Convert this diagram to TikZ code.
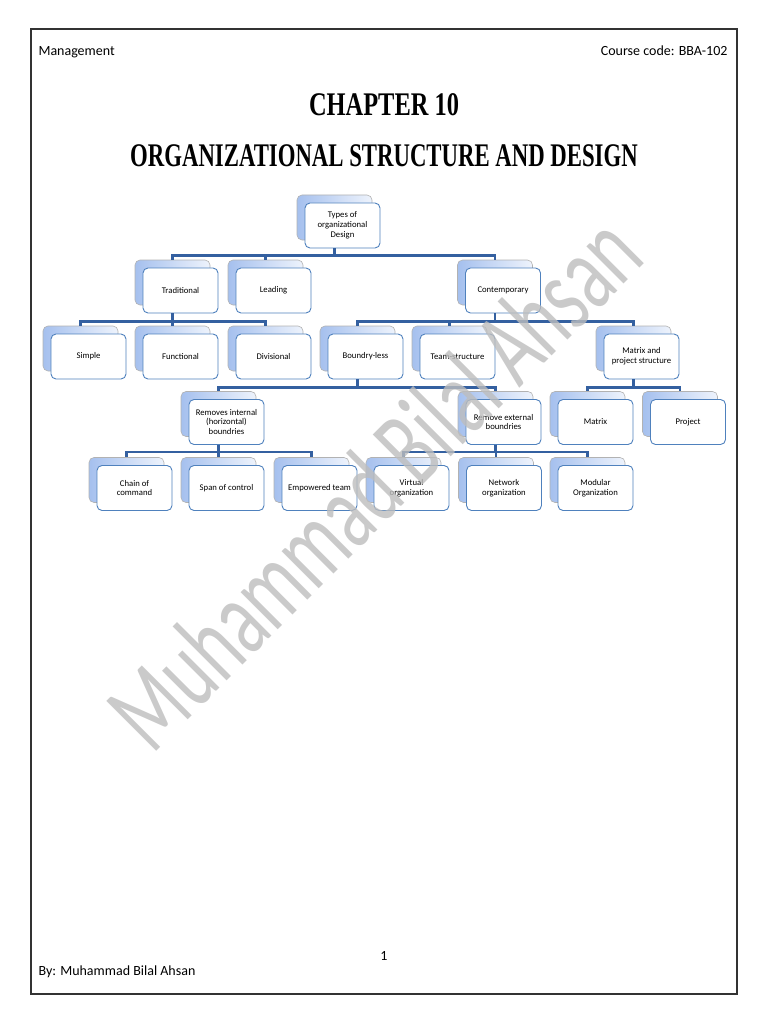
\documentclass[tikz,border=0pt]{standalone}
\usepackage{fontspec}
\setmainfont{Carlito}
\newfontfamily\headfont{Liberation Serif}
\usepackage{tikz}
\usetikzlibrary{shadows,calc}

\definecolor{edgeblue}{RGB}{79,129,189}
\definecolor{linkblue}{RGB}{52,96,160}
\definecolor{backblue}{RGB}{165,192,238}
\definecolor{backpale}{RGB}{238,243,252}

\tikzset{
  orgbox/.style={draw=edgeblue, line width=0.9pt, rounded corners=5pt, fill=white,
    minimum width=75pt, minimum height=45pt, inner sep=1pt, align=center,
    font=\fontsize{8.7}{9.8}\selectfont,
    general shadow={shadow xshift=-8pt, shadow yshift=8pt, draw=gray!60,
      line width=0.6pt, left color=backblue, right color=backpale}},
  link/.style={draw=linkblue, line width=2.5pt},
}

\begin{document}
\begin{tikzpicture}[x=1pt,y=-1pt]
\useasboundingbox (0,0) rectangle (768,1024);
\draw[line width=1.2pt, black!80] (31,29) rectangle (737,994);

% page head and foot
\node (mgmt) at (35,56) [anchor=base west, font=\fontsize{14}{16}\selectfont] {Management};
\node (code) at (731,56) [anchor=base east, font=\fontsize{14}{16}\selectfont] {Course code: BBA-102};
\node (chap) at (384,116) [anchor=base, font=\fontsize{33}{36}\headfont\bfseries] {\scalebox{0.74}[1]{CHAPTER 10}};
\node (title) at (384,167) [anchor=base, font=\fontsize{33}{36}\headfont\bfseries] {\scalebox{0.69}[1]{ORGANIZATIONAL STRUCTURE AND DESIGN}};
\node (pageno) at (384,960) [anchor=base, font=\fontsize{14}{16}\selectfont] {1};
\node (author) at (35,975) [anchor=base west, font=\fontsize{14}{16}\selectfont] {By: Muhammad Bilal Ahsan};

% the chart
\node (root) at (342.5,225.5) [orgbox] {Types of\\organizational\\Design};
\node (trad) at (180.5,290.5) [orgbox] {Traditional};
\node (lead) at (273.5,290.5) [orgbox] {Leading};
\node (cont) at (503,290.5) [orgbox] {Contemporary};
\node (simple) at (88.5,356.5) [orgbox] {Simple};
\node (func) at (180.5,356.5) [orgbox] {Functional};
\node (div) at (273.5,356.5) [orgbox] {Divisional};
\node (bless) at (365.5,356.5) [orgbox] {Boundry-less};
\node (team) at (457.5,356.5) [orgbox] {Team-structure};
\node (mps) at (641.5,356.5) [orgbox] {Matrix and\\project structure};
\node (remint) at (226.5,422) [orgbox] {Removes internal\\(horizontal)\\boundries};
\node (remext) at (503.5,422) [orgbox] {Remove external\\boundries};
\node (matrix) at (595.5,422) [orgbox] {Matrix};
\node (project) at (688,422) [orgbox] {Project};
\node (chain) at (134.5,488) [orgbox] {Chain of\\command};
\node (span) at (226.5,488) [orgbox] {Span of control};
\node (emp) at (319.5,488) [orgbox] {Empowered team};
\node (virt) at (411.5,488) [orgbox] {Virtual\\organization};
\node (net) at (504,488) [orgbox] {Network\\organization};
\node (mod) at (595.5,488) [orgbox] {Modular\\Organization};

\draw[link] ([xshift=-8pt]root.south) -- ++(0,7) -| ([xshift=-8pt,yshift=8pt]trad.north);
\draw[link] ([xshift=-8pt]root.south) -- ++(0,7) -| ([xshift=-8pt,yshift=8pt]lead.north);
\draw[link] ([xshift=-8pt]root.south) -- ++(0,7) -| ([xshift=-8pt,yshift=8pt]cont.north);

\draw[link] ([xshift=-8pt]trad.south) -- ++(0,8) -| ([xshift=-8pt,yshift=8pt]simple.north);
\draw[link] ([xshift=-8pt]trad.south) -- ++(0,8) -| ([xshift=-8pt,yshift=8pt]func.north);
\draw[link] ([xshift=-8pt]trad.south) -- ++(0,8) -| ([xshift=-8pt,yshift=8pt]div.north);

\draw[link] ([xshift=-8pt]cont.south) -- ++(0,8) -| ([xshift=-8pt,yshift=8pt]bless.north);
\draw[link] ([xshift=-8pt]cont.south) -- ++(0,8) -| ([xshift=-8pt,yshift=8pt]team.north);
\draw[link] ([xshift=-8pt]cont.south) -- ++(0,8) -| ([xshift=-8pt,yshift=8pt]mps.north);

\draw[link] ([xshift=-8pt]bless.south) -- ++(0,8) -| ([xshift=-8pt,yshift=8pt]remint.north);
\draw[link] ([xshift=-8pt]bless.south) -- ++(0,8) -| ([xshift=-8pt,yshift=8pt]remext.north);

\draw[link] ([xshift=-8pt]mps.south) -- ++(0,8) -| ([xshift=-8pt,yshift=8pt]matrix.north);
\draw[link] ([xshift=-8pt]mps.south) -- ++(0,8) -| ([xshift=-8pt,yshift=8pt]project.north);

\draw[link] ([xshift=-8pt]remint.south) -- ++(0,7) -| ([xshift=-8pt,yshift=8pt]chain.north);
\draw[link] ([xshift=-8pt]remint.south) -- ++(0,7) -| ([xshift=-8pt,yshift=8pt]span.north);
\draw[link] ([xshift=-8pt]remint.south) -- ++(0,7) -| ([xshift=-8pt,yshift=8pt]emp.north);

\draw[link] ([xshift=-8pt]remext.south) -- ++(0,7) -| ([xshift=-8pt,yshift=8pt]virt.north);
\draw[link] ([xshift=-8pt]remext.south) -- ++(0,7) -| ([xshift=-8pt,yshift=8pt]net.north);
\draw[link] ([xshift=-8pt]remext.south) -- ++(0,7) -| ([xshift=-8pt,yshift=8pt]mod.north);

% watermark
\node (mark) at (400,508) [anchor=base, rotate=45, text=black!26, text opacity=0.8,
  font=\fontsize{110}{110}\selectfont] {\scalebox{0.66}[1]{Muhammad Bilal Ahsan}};

\end{tikzpicture}
\end{document}
